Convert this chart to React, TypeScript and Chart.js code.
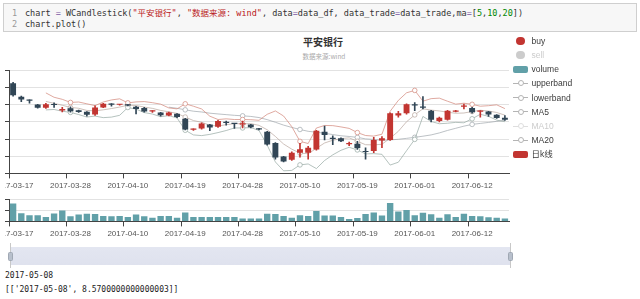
import React, { useEffect, useRef } from "react";
import { Chart, registerables } from "chart.js";

Chart.register(...registerables);

const dates = [
  "2017-03-17", "2017-03-20", "2017-03-21", "2017-03-22", "2017-03-23", "2017-03-24", "2017-03-27",
  "2017-03-28", "2017-03-29", "2017-03-30", "2017-03-31", "2017-04-05", "2017-04-06", "2017-04-07",
  "2017-04-10", "2017-04-11", "2017-04-12", "2017-04-13", "2017-04-14", "2017-04-17", "2017-04-18",
  "2017-04-19", "2017-04-20", "2017-04-21", "2017-04-24", "2017-04-25", "2017-04-26", "2017-04-27",
  "2017-04-28", "2017-05-02", "2017-05-03", "2017-05-04", "2017-05-05", "2017-05-08", "2017-05-09",
  "2017-05-10", "2017-05-11", "2017-05-12", "2017-05-15", "2017-05-16", "2017-05-17", "2017-05-18",
  "2017-05-19", "2017-05-22", "2017-05-23", "2017-05-24", "2017-05-25", "2017-05-26", "2017-05-31",
  "2017-06-01", "2017-06-02", "2017-06-05", "2017-06-06", "2017-06-07", "2017-06-08", "2017-06-09",
  "2017-06-12", "2017-06-13", "2017-06-14", "2017-06-15", "2017-06-16",
];

const opens = [
  9.45, 9.293, 9.255, 9.202, 9.165, 9.202, 9.131, 9.157, 9.134, 9.119, 9.085, 9.168, 9.205, 9.198,
  9.195, 9.176, 9.161, 9.12, 9.108, 9.074, 9.093, 9.036, 8.908, 8.923, 8.968, 8.942, 8.992, 8.978,
  8.97, 8.968, 8.92, 8.886, 8.754, 8.596, 8.558, 8.64, 8.641, 8.679, 8.886, 8.81, 8.81, 8.74,
  8.746, 8.653, 8.66, 8.784, 8.79, 9.074, 9.1, 9.206, 9.176, 9.13, 9.01, 9.025, 9.119, 9.176,
  9.16, 9.119, 9.12, 9.082, 9.048,
];
const closes = [
  9.31, 9.259, 9.247, 9.165, 9.206, 9.195, 9.15, 9.123, 9.116, 9.082, 9.168, 9.21, 9.2, 9.2,
  9.19, 9.15, 9.12, 9.125, 9.078, 9.108, 9.055, 8.912, 8.919, 8.98, 8.935, 9.01, 8.988, 8.975,
  8.98, 8.938, 8.912, 8.735, 8.584, 8.539, 8.641, 8.68, 8.698, 8.897, 8.848, 8.8, 8.773, 8.745,
  8.697, 8.648, 8.79, 8.81, 9.1, 9.1, 9.206, 9.19, 9.165, 9.025, 9.048, 9.13, 9.13, 9.18,
  9.112, 9.123, 9.085, 9.044, 9.025,
];
const lows = [
  9.3, 9.236, 9.217, 9.16, 9.157, 9.168, 9.116, 9.112, 9.11, 9.067, 9.074, 9.165, 9.183, 9.195,
  9.185, 9.093, 9.112, 9.11, 9.067, 9.07, 9.05, 8.906, 8.9, 8.915, 8.897, 8.935, 8.961, 8.923,
  8.93, 8.93, 8.905, 8.73, 8.565, 8.535, 8.55, 8.59, 8.566, 8.67, 8.79, 8.735, 8.77, 8.724,
  8.678, 8.565, 8.64, 8.7, 8.785, 9.055, 9.09, 9.13, 9.15, 8.999, 9.0, 9.02, 9.115, 9.15,
  9.1, 9.055, 9.063, 9.04, 9.018,
];
const highs = [
  9.46, 9.3, 9.256, 9.205, 9.217, 9.221, 9.168, 9.176, 9.138, 9.12, 9.187, 9.215, 9.213, 9.205,
  9.2, 9.18, 9.168, 9.13, 9.11, 9.115, 9.097, 9.04, 8.92, 8.99, 8.972, 9.017, 9.01, 8.98,
  9.01, 8.97, 8.925, 8.89, 8.76, 8.6, 8.65, 8.75, 8.716, 8.9, 8.95, 8.837, 8.815, 8.765,
  8.773, 8.697, 8.82, 8.83, 9.105, 9.123, 9.21, 9.225, 9.293, 9.135, 9.055, 9.135, 9.135, 9.206,
  9.17, 9.13, 9.123, 9.085, 9.074,
];

// volume, in 万手
const volumes = [
  162, 74, 56, 56, 40, 72, 98, 46, 62, 70, 66, 50, 46, 50, 40, 62, 46, 34, 50, 50, 34,
  80, 40, 40, 40, 40, 40, 40, 26, 26, 26, 70, 66, 48, 32, 56, 50, 94, 54, 54, 40, 22,
  30, 66, 80, 54, 166, 90, 104, 56, 78, 64, 34, 64, 40, 70, 50, 46, 38, 32, 26,
];

const N = null;
const upperBand = [
  N, N, N, N, 9.337, 9.286, 9.262, 9.226, 9.231, 9.21, 9.189, 9.231, 9.255, 9.268, 9.221,
  9.232, 9.236, 9.223, 9.206, 9.162, 9.151, 9.21, 9.182, 9.15, 9.066, 9.027, 9.035, 9.027,
  9.027, 9.025, 9.018, 9.088, 9.127, 9.068, 8.944, 8.773, 8.748, 8.928, 8.958, 8.956, 8.941,
  8.924, 8.875, 8.841, 8.834, 8.856, 9.123, 9.25, 9.338, 9.366, 9.241, 9.27, 9.276, 9.24,
  9.206, 9.217, 9.204, 9.182, 9.188, 9.198, 9.154,
];
const lowerBand = [
  N, N, N, N, 9.139, 9.144, 9.124, 9.11, 9.085, 9.056, 9.067, 9.049, 9.055, 9.076, 9.167,
  9.148, 9.108, 9.091, 9.06, 9.072, 9.045, 8.902, 8.848, 8.84, 8.854, 8.875, 8.899, 8.929,
  8.929, 8.933, 8.9, 8.728, 8.533, 8.43, 8.435, 8.499, 8.51, 8.456, 8.55, 8.616, 8.669,
  8.704, 8.673, 8.627, 8.63, 8.622, 8.497, 8.53, 8.664, 8.796, 9.063, 9.004, 8.978, 8.984,
  8.994, 8.989, 9.036, 9.088, 9.064, 9.02, 9.002,
];
const ma5 = [
  N, N, N, N, 9.238, 9.215, 9.193, 9.168, 9.158, 9.133, 9.128, 9.14, 9.155, 9.172, 9.194,
  9.19, 9.172, 9.157, 9.133, 9.117, 9.098, 9.056, 9.015, 8.995, 8.96, 8.951, 8.967, 8.978,
  8.978, 8.979, 8.959, 8.908, 8.83, 8.742, 8.682, 8.636, 8.629, 8.692, 8.754, 8.786, 8.805,
  8.814, 8.774, 8.734, 8.732, 8.739, 8.81, 8.89, 9.001, 9.081, 9.152, 9.137, 9.127, 9.112,
  9.1, 9.103, 9.12, 9.135, 9.126, 9.109, 9.078,
];
const ma20 = [
  N, N, N, N, N, N, N, N, N, N, N, N, N, N, N, N, N, N, N, 9.171, 9.158, 9.14, 9.124, 9.115,
  9.101, 9.092, 9.084, 9.076, 9.07, 9.063, 9.05, 9.026, 8.995, 8.962, 8.935, 8.911, 8.89,
  8.879, 8.867, 8.852, 8.838, 8.83, 8.819, 8.802, 8.795, 8.785, 8.79, 8.797, 8.808, 8.82,
  8.833, 8.848, 8.871, 8.9, 8.925, 8.95, 8.97, 8.982, 8.993, 9.006, 9.018,
];

const priceAxis = { min: 8.4, max: 9.6, step: 0.2 };
const volumeAxis = { min: 0, max: 200, step: 100 };

const legendNames = ["buy", "sell", "volume", "upperband", "lowerband", "MA5", "MA10", "MA20", "日k线"];
const legendKinds = ["circle", "circle", "rect", "line", "line", "line", "line", "line", "rect"];
const legendActive = [true, false, true, true, true, true, false, true, true];

const codeLine1 = 'chart = WCandlestick("平安银行", "数据来源: wind", data=data_df, data_trade=data_trade,ma=[5,10,20])';
const codeLine2 = "chart.plot()";
const outLine1 = "2017-05-08";
const outLine2 = "[['2017-05-08', 8.5700000000000003]]";

const UP = "#c23531";
const DOWN = "#314656";
const LABEL_EVERY = 7;

const candleColor = (ctx: any) => {
  const i = ctx.dataIndex;
  return closes[i] >= opens[i] ? UP : DOWN;
};
const symbolRadius = (ctx: any) => (ctx.dataIndex % LABEL_EVERY === 0 ? 2.3 : 0);

function xScale(show: boolean) {
  return {
    offset: true,
    grid: {
      display: true,
      drawOnChartArea: false,
      offset: true,
      tickLength: 5,
      tickColor: (c: any) => (c.index % LABEL_EVERY === 0 ? "#444" : "rgba(0,0,0,0)"),
    },
    border: { color: "#444" },
    ticks: {
      display: show,
      autoSkip: false,
      maxRotation: 0,
      minRotation: 0,
      padding: 2.5,
      color: "#555",
      font: { family: "Liberation Sans", size: 8 },
      callback: (_v: any, i: number) => (i % LABEL_EVERY === 0 ? dates[i] : ""),
    },
  };
}

function lineDs(label: string, data: (number | null)[], color: string) {
  return {
    type: "line" as const,
    label,
    data,
    borderColor: color,
    borderWidth: 1,
    pointRadius: symbolRadius,
    pointBackgroundColor: "#fff",
    pointBorderColor: color,
    pointBorderWidth: 1,
    tension: 0,
    order: 5,
  };
}

function CandleChart() {
  const ref = useRef<HTMLCanvasElement>(null);
  useEffect(() => {
    const chart = new Chart(ref.current as HTMLCanvasElement, {
      type: "bar",
      data: {
        labels: dates,
        datasets: [
          lineDs("upperband", upperBand, "rgba(212,140,128,0.75)"),
          lineDs("lowerband", lowerBand, "rgba(150,168,163,0.7)"),
          lineDs("MA5", ma5, "rgba(180,160,150,0.65)"),
          lineDs("MA20", ma20, "rgba(160,166,172,0.7)"),
          {
            type: "bar",
            label: "wick",
            data: lows.map((l, i) => [l, highs[i]]),
            backgroundColor: candleColor,
            barThickness: 1,
            grouped: false,
            order: 2,
          },
          {
            type: "bar",
            label: "日k线",
            data: opens.map((o, i) => [o, closes[i]]),
            backgroundColor: candleColor,
            barPercentage: 0.72,
            categoryPercentage: 1,
            grouped: false,
            minBarLength: 1.2,
            order: 1,
          },
        ] as any,
      },
      options: {
        animation: false,
        responsive: false,
        events: [],
        layout: { padding: { left: 44, right: 131, top: 10.3, bottom: 0 } },
        plugins: { legend: { display: false }, tooltip: { enabled: false }, title: { display: false } },
        scales: {
          x: xScale(true) as any,
          y: {
            min: priceAxis.min,
            max: priceAxis.max,
            ticks: { display: false, stepSize: priceAxis.step },
            grid: { color: "#e2e2e2", tickLength: 5, tickColor: "#444" },
            border: { color: "#444" },
          },
        },
      },
    });
    return () => chart.destroy();
  }, []);
  return (
    <canvas
      ref={ref}
      width={680}
      height={133}
      style={{ position: "absolute", left: -45, top: 60, width: 680, height: 133 }}
    />
  );
}

function VolumeChart() {
  const ref = useRef<HTMLCanvasElement>(null);
  useEffect(() => {
    const chart = new Chart(ref.current as HTMLCanvasElement, {
      type: "bar",
      data: {
        labels: dates,
        datasets: [
          {
            label: "volume",
            data: volumes,
            backgroundColor: "#61a0a8",
            barPercentage: 0.78,
            categoryPercentage: 1,
          },
        ],
      },
      options: {
        animation: false,
        responsive: false,
        events: [],
        layout: { padding: { left: 44, right: 131, top: 9.3, bottom: 0 } },
        plugins: { legend: { display: false }, tooltip: { enabled: false } },
        scales: {
          x: xScale(true) as any,
          y: {
            min: volumeAxis.min,
            max: volumeAxis.max,
            ticks: { display: false, stepSize: volumeAxis.step },
            grid: { color: "#e2e2e2", tickLength: 5, tickColor: "#444" },
            border: { color: "#444" },
          },
        },
      },
    });
    return () => chart.destroy();
  }, []);
  return (
    <canvas
      ref={ref}
      width={680}
      height={51}
      style={{ position: "absolute", left: -45, top: 190, width: 680, height: 51 }}
    />
  );
}

function LegendIcon({ kind, index }: { kind: string; index: number }) {
  const active = legendActive[index];
  const base: React.CSSProperties = { position: "absolute", boxSizing: "border-box" };
  if (kind === "circle") {
    const color = index === 0 ? UP : "#ccc";
    return <div style={{ ...base, left: 516.3, top: -4.3, width: 8.6, height: 8.6, borderRadius: "50%", background: color }} />;
  }
  if (kind === "rect") {
    const color = index === 2 ? "#61a0a8" : UP;
    return <div style={{ ...base, left: 512.7, top: -3.6, width: 15.6, height: 7.2, borderRadius: 2, background: color }} />;
  }
  const c = active ? "#b4b4b4" : "#dedede";
  return (
    <>
      <div style={{ ...base, left: 512.7, top: -0.5, width: 15.6, height: 1, background: c }} />
      <div
        style={{ ...base, left: 517.5, top: -3, width: 6, height: 6, borderRadius: "50%", border: `1px solid ${c}`, background: "#fff" }}
      />
    </>
  );
}

function Legend() {
  return (
    <>
      {legendNames.map((name, i) => {
        const cy = 40.8 + i * 14.2;
        return (
          <div key={name} style={{ position: "absolute", left: 0, top: cy, width: 0, height: 0 }}>
            <LegendIcon kind={legendKinds[i]} index={i} />
            <div
              style={{
                position: "absolute",
                left: 531.5,
                top: -6,
                height: 12,
                lineHeight: "12px",
                whiteSpace: "nowrap",
                fontFamily: "'Liberation Sans', 'Noto Sans CJK SC', sans-serif",
                fontSize: 8.5,
                color: legendActive[i] ? "#3a3a3a" : "#cccccc",
              }}
            >
              {name}
            </div>
          </div>
        );
      })}
    </>
  );
}

const mono = "'DejaVu Sans Mono', 'Noto Sans CJK SC', monospace";

function CodeLine1() {
  const str = { color: "#ba2121" };
  const num = { color: "#008800" };
  const op = { color: "#7c5aa6" };
  return (
    <span>
      chart <span style={op}>=</span> WCandlestick(<span style={str}>"平安银行"</span>,{" "}
      <span style={str}>"数据来源: wind"</span>, data<span style={op}>=</span>data_df, data_trade
      <span style={op}>=</span>data_trade,ma<span style={op}>=</span>[<span style={num}>5</span>,
      <span style={num}>10</span>,<span style={num}>20</span>])
    </span>
  );
}

function CodeCell() {
  return (
    <div
      style={{
        position: "absolute",
        left: 3,
        top: 3,
        width: 634,
        height: 29,
        boxSizing: "border-box",
        background: "#f7f7f7",
        border: "1px solid #cfcfcf",
        fontFamily: mono,
        fontSize: 8.5,
        whiteSpace: "pre",
        color: "#333",
      }}
      title={codeLine1 + "\n" + codeLine2}
    >
      <div style={{ position: "absolute", left: 8, top: 4, lineHeight: "11px", color: "#999" }}>1</div>
      <div style={{ position: "absolute", left: 8, top: 15, lineHeight: "11px", color: "#999" }}>2</div>
      <div style={{ position: "absolute", left: 21, top: 4, lineHeight: "11px" }}>
        <CodeLine1 />
      </div>
      <div style={{ position: "absolute", left: 21, top: 15, lineHeight: "11px" }}>{codeLine2}</div>
    </div>
  );
}

function DataZoom() {
  const handle = (x: number) => (
    <>
      <div style={{ position: "absolute", left: x, top: 243, width: 1, height: 25, background: "#c8c8c8" }} />
      <div
        style={{
          position: "absolute",
          left: x - 2,
          top: 251.5,
          width: 5,
          height: 9,
          borderRadius: 1.5,
          background: "#b8c0cc",
          border: "1px solid #a0a8b4",
          boxSizing: "border-box",
        }}
      />
    </>
  );
  return (
    <>
      <div
        style={{
          position: "absolute",
          left: 9.5,
          top: 246.5,
          width: 501,
          height: 18.5,
          background: "linear-gradient(#e3e6f1, #dfe2ee)",
        }}
      />
      {handle(10)}
      {handle(510)}
    </>
  );
}

export default function App() {
  return (
    <div
      style={{
        position: "fixed",
        left: 0,
        top: 0,
        width: 640,
        height: 299,
        overflow: "hidden",
        background: "#fff",
      }}
    >
      <CodeCell />
      <div
        style={{
          position: "absolute",
          left: 273,
          top: 36,
          width: 100,
          height: 12,
          lineHeight: "12px",
          textAlign: "center",
          fontFamily: "'Noto Sans CJK SC', sans-serif",
          fontWeight: "bold",
          fontSize: 10,
          color: "#333",
        }}
      >
        平安银行
      </div>
      <div
        style={{
          position: "absolute",
          left: 274,
          top: 52,
          width: 100,
          height: 8,
          lineHeight: "8px",
          textAlign: "center",
          fontFamily: "'Noto Sans CJK SC', sans-serif",
          fontSize: 6.5,
          color: "#aaa",
        }}
      >
        数据来源:wind
      </div>
      <div style={{ position: "absolute", left: 5, top: 0, width: 635, height: 245, overflow: "hidden" }}>
        <CandleChart />
        <VolumeChart />
      </div>
      <Legend />
      <DataZoom />
      <div
        style={{
          position: "absolute",
          left: 5,
          top: 270,
          lineHeight: "11px",
          fontFamily: mono,
          fontSize: 8,
          color: "#222",
          whiteSpace: "pre",
        }}
      >
        {outLine1}
        {"\n"}
        <span style={{ position: "relative", top: 3 }}>{outLine2}</span>
      </div>
    </div>
  );
}
